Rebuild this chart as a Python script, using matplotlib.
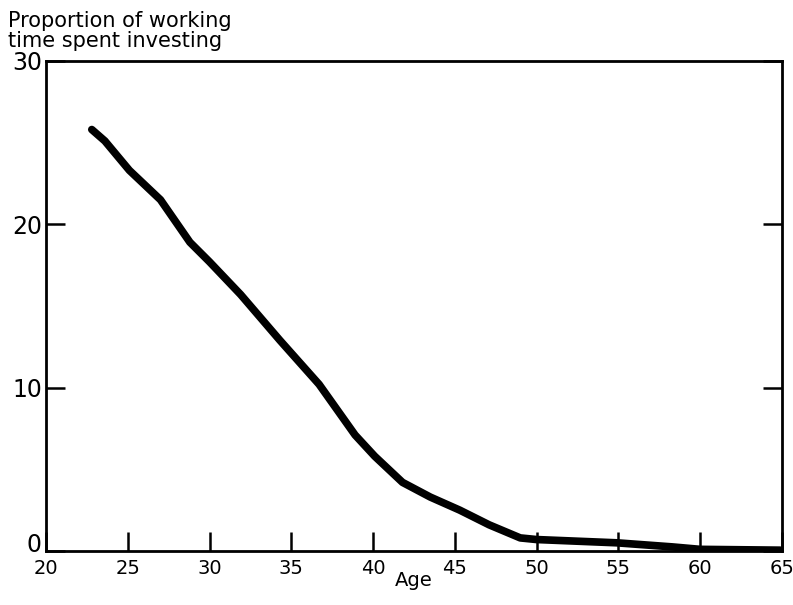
import numpy as np
import matplotlib.pyplot as plt
import matplotlib.transforms as mtransforms

# values
age = [22.8, 23.6, 25.1, 27.0, 28.8, 30.0, 31.9, 34.3, 36.7, 38.9, 40.1,
       41.8, 43.5, 45.3, 47.1, 49.0, 50.0, 54.9, 58.3, 60.0, 64.9]
share = [25.8, 25.1, 23.3, 21.5, 18.9, 17.7, 15.7, 12.9, 10.2, 7.1, 5.8,
         4.2, 3.3, 2.5, 1.6, 0.8, 0.7, 0.5, 0.25, 0.1, 0.05]

x_ticks = [20, 25, 30, 35, 40, 45, 50, 55, 60, 65]
y_ticks = [0, 10, 20, 30]

plt.rcParams["font.family"] = ["DejaVu Sans"]

fig = plt.figure(figsize=(7.93, 6.05), dpi=100)
ax = fig.add_axes([0.058, 0.0893, 0.928, 0.81])

ax.plot(age, share, color="black", lw=5.5, solid_capstyle="round", solid_joinstyle="round")

ax.set_xlim(20, 65)
ax.set_ylim(0, 30)
ax.set_xticks(x_ticks)
ax.set_yticks(y_ticks)
ax.tick_params(axis="both", direction="in", length=14, width=1.8, pad=4)
ax.tick_params(axis="x", labelsize=14, pad=6)
ax.tick_params(axis="y", right=True, labelsize=17, pad=3)
for s in ax.spines.values():
    s.set_linewidth(2)

# the "0" sits a little higher in the original, clear of the "20" below
fig.canvas.draw()
lbl0 = ax.get_yticklabels()[0]
lbl0.set_transform(lbl0.get_transform() + mtransforms.ScaledTranslation(0, 6 / 72, fig.dpi_scale_trans))

ax.set_xlabel("Age", fontsize=14, labelpad=-5)
fig.text(0.01, 0.915, "Proportion of working\ntime spent investing",
         fontsize=15, ha="left", va="bottom", linespacing=1.0)

fig.savefig("out.png", dpi=100)
